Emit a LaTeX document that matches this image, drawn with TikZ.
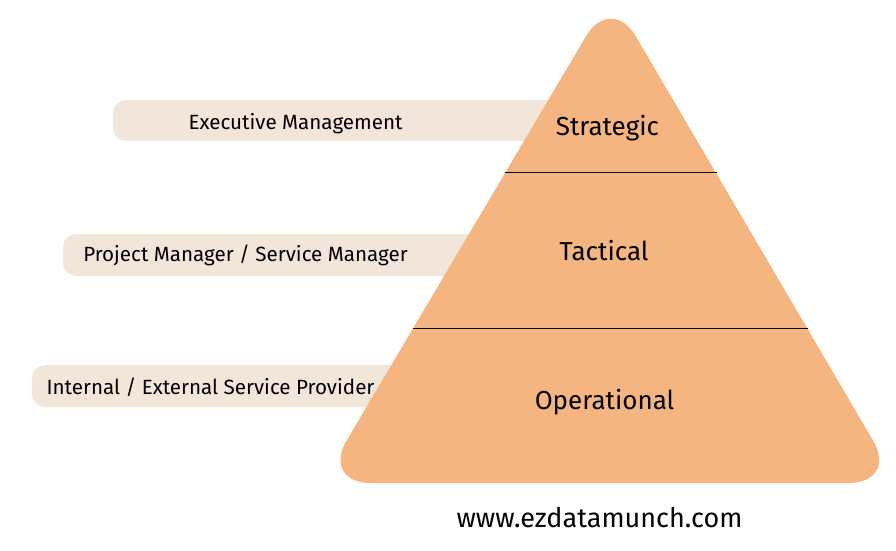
\documentclass[tikz,border=0pt]{standalone}
\usepackage{fontspec}
\setmainfont{Fira Sans}
\definecolor{pyrfill}{HTML}{F4B580}
\definecolor{boxfill}{HTML}{F2E5DA}

\begin{document}
\begin{tikzpicture}[x=1pt,y=-1pt,
  rolebox/.style={fill=boxfill, rounded corners=13pt},
  rolelabel/.style={font=\fontsize{20.6}{24}\selectfont, inner sep=0pt},
  levellabel/.style={font=\fontsize{26}{30}\selectfont, inner sep=0pt}]
\useasboundingbox (0,0) rectangle (896,550);

\fill [rolebox] (113,100) rectangle (600,141);
\fill [rolebox] (63,234) rectangle (520,276);
\fill [rolebox] (32,365) rectangle (440,407);

\fill [pyrfill, rounded corners=49pt] (321.5,483) -- (611,-6) -- (898,483) -- cycle;

\coordinate (T1) at (505,172);
\coordinate (T2) at (717,172);
\coordinate (T3) at (413,328);
\coordinate (T4) at (808,328);
\draw [line width=1pt] (T1) -- (T2);
\draw [line width=1pt] (T3) -- (T4);

\node (R1) at (295.5,123.5) [rolelabel] {Executive Management};
\node (R2) at (245.5,255) [rolelabel] {Project Manager / Service Manager};
\node (R3) at (210.5,387) [rolelabel] {Internal / External Service Provider};

\node (L1) at (607.5,128) [levellabel] {Strategic};
\node (L2) at (604,251) [levellabel] {Tactical};
\node (L3) at (604.5,402) [levellabel] {Operational};

\node (W) at (599.5,518) [font=\fontsize{27}{30}\selectfont, inner sep=0pt] {www.ezdatamunch.com};

\end{tikzpicture}
\end{document}
